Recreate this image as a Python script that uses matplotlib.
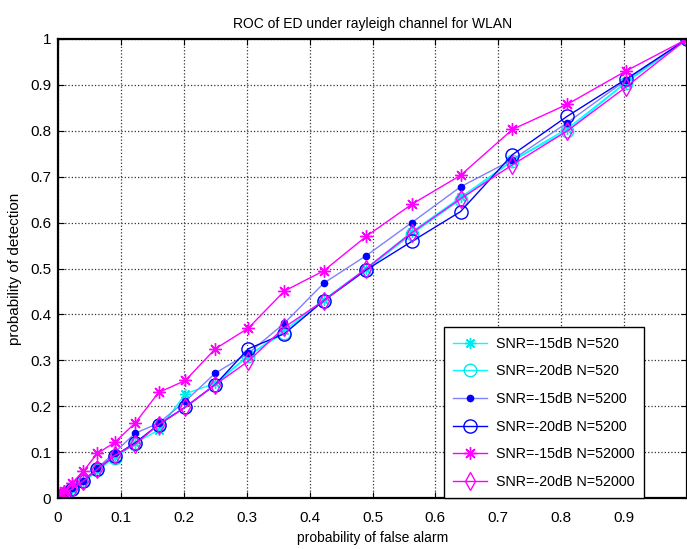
import matplotlib
matplotlib.use("Agg")
import matplotlib.pyplot as plt

plt.rcParams['font.family'] = ['Liberation Sans', 'DejaVu Sans']

# false alarm probabilities (x) shared by all curves
pfa = [0, 0.0025, 0.01, 0.0225, 0.04, 0.0625, 0.09, 0.1225, 0.16, 0.2025, 0.25,
       0.3025, 0.36, 0.4225, 0.49, 0.5625, 0.64, 0.7225, 0.81, 0.9025, 1.0]

pd_m15_520 = [0, 0.004, 0.01, 0.02, 0.035, 0.058, 0.09, 0.12, 0.148, 0.227, 0.25,
              0.31, 0.365, 0.432, 0.50, 0.58, 0.655, 0.735, 0.805, 0.905, 1.0]
pd_m20_520 = [0, 0.003, 0.009, 0.019, 0.037, 0.062, 0.088, 0.118, 0.16, 0.198, 0.247,
              0.31, 0.36, 0.43, 0.497, 0.575, 0.65, 0.735, 0.80, 0.905, 1.0]
pd_m15_5200 = [0, 0.004, 0.01, 0.022, 0.038, 0.065, 0.099, 0.141, 0.163, 0.211, 0.272,
               0.315, 0.381, 0.468, 0.528, 0.60, 0.678, 0.737, 0.818, 0.91, 1.0]
pd_m20_5200 = [0, 0.003, 0.008, 0.019, 0.037, 0.063, 0.092, 0.12, 0.16, 0.198, 0.247,
               0.325, 0.358, 0.43, 0.497, 0.559, 0.624, 0.748, 0.832, 0.912, 1.0]
pd_m15_52000 = [0, 0.005, 0.015, 0.033, 0.058, 0.097, 0.121, 0.163, 0.23, 0.256, 0.325,
                0.370, 0.451, 0.495, 0.570, 0.64, 0.703, 0.803, 0.858, 0.93, 1.0]
pd_m20_52000 = [0, 0.003, 0.009, 0.02, 0.037, 0.063, 0.093, 0.117, 0.16, 0.198, 0.247,
                0.298, 0.372, 0.43, 0.50, 0.578, 0.652, 0.726, 0.80, 0.895, 1.0]

labels = ['SNR=-15dB N=520', 'SNR=-20dB N=520', 'SNR=-15dB N=5200',
          'SNR=-20dB N=5200', 'SNR=-15dB N=52000', 'SNR=-20dB N=52000']

xtick_vals = [0, 0.1, 0.2, 0.3, 0.4, 0.5, 0.6, 0.7, 0.8, 0.9, 1.0]
xtick_labels = ['0', '0.1', '0.2', '0.3', '0.4', '0.5', '0.6', '0.7', '0.8', '0.9', '']
ytick_vals = [0, 0.1, 0.2, 0.3, 0.4, 0.5, 0.6, 0.7, 0.8, 0.9, 1.0]
ytick_labels = ['0', '0.1', '0.2', '0.3', '0.4', '0.5', '0.6', '0.7', '0.8', '0.9', '1']

fig = plt.figure(figsize=(6.87, 5.49), dpi=100)
ax = fig.add_axes([58/687, 51/549, 629/687, 459/549])

star = (8, 2, 0)
ax.plot(pfa, pd_m15_520, color='#00ffff', lw=1, marker=star, ms=8, mec='#00e8e8', label=labels[0])
ax.plot(pfa, pd_m20_520, color='#00ffff', lw=1, marker='o', ms=9, mfc='none', mec='#00e8e8', label=labels[1])
ax.plot(pfa, pd_m15_5200, color='#8080ff', lw=1, marker='o', ms=4.5, mfc='#0000ff', mec='#0000ff', label=labels[2])
ax.plot(pfa, pd_m20_5200, color='#0000ff', lw=1, marker='o', ms=9.5, mfc='none', mec='#0000ff', label=labels[3])
ax.plot(pfa, pd_m15_52000, color='#ff00ff', lw=1, marker=star, ms=9, mec='#ff00ff', label=labels[4])
ax.plot(pfa, pd_m20_52000, color='#ff00ff', lw=1, marker='d', ms=9, mfc='none', mec='#ff00ff', label=labels[5])

ax.set_xlim(0, 1)
ax.set_ylim(0, 1)
ax.set_xticks(xtick_vals)
ax.set_xticklabels(xtick_labels)
ax.set_yticks(ytick_vals)
ax.set_yticklabels(ytick_labels)
ax.tick_params(direction='in', top=True, right=True, length=4, labelsize=11, width=0.8)
ax.tick_params(axis='x', pad=9)
ax.tick_params(axis='y', pad=5)
ax.grid(True, ls=':', color='0.2', lw=0.9)
for s in ax.spines.values():
    s.set_linewidth(1.6)

ax.set_title('ROC of ED under rayleigh channel for WLAN', fontsize=10, pad=8)
ax.set_xlabel('probability of false alarm', fontsize=10, labelpad=5)
ax.set_ylabel('probability of detection', fontsize=11, labelpad=6)

leg = ax.legend(loc='lower right', fontsize=10.3, handlelength=2.4, borderaxespad=0,
                fancybox=False, framealpha=1, edgecolor='black', labelspacing=0.95,
                handletextpad=0.6, borderpad=0.65)
leg.set_bbox_to_anchor((644/687, 51/549), transform=fig.transFigure)
leg.get_frame().set_linewidth(1.0)

fig.savefig('out.png', dpi=100)
